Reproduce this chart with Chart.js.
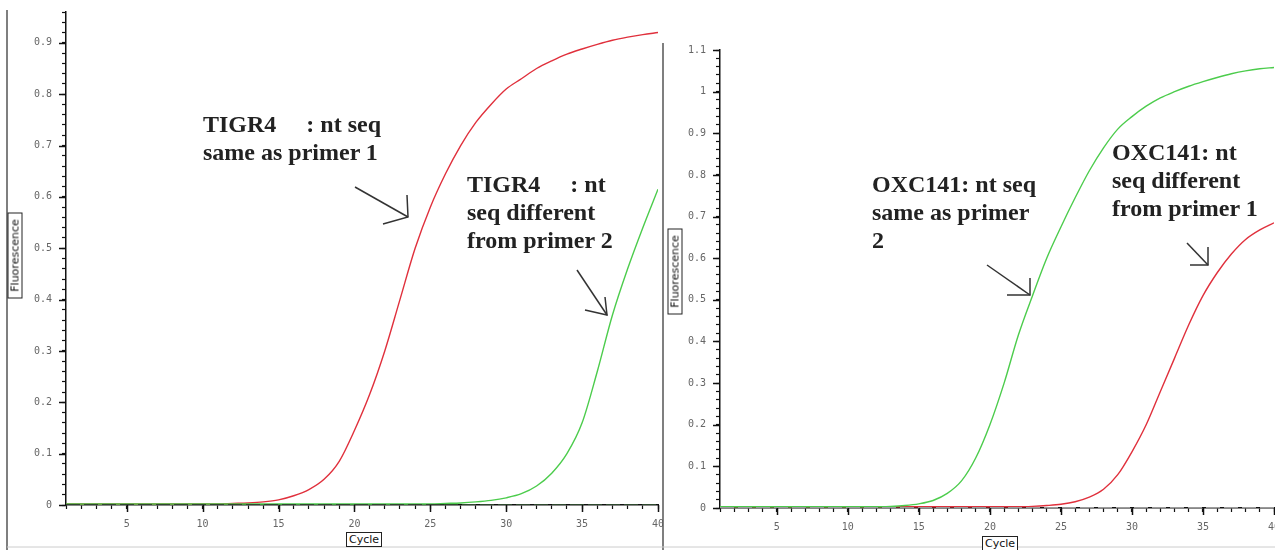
<!DOCTYPE html>
<html>
<head>
<meta charset="utf-8">
<script src="https://cdn.jsdelivr.net/npm/chart.js@4"></script>
<style>
  body { margin: 0; background: #fff; }
  #wrap { position: relative; width: 1275px; height: 550px; overflow: hidden; background: #fff; }
  canvas { position: absolute; top: 0; }
  .note { position: absolute; font: bold 24px "Liberation Serif", "DejaVu Serif", serif; line-height: 28px; color: #222; white-space: pre; }
  .axlab { position: absolute; font: 11px "DejaVu Sans", sans-serif; color: #111; border: 1px solid #222; padding: 0 2px; line-height: 13px; background: #fff; }
  svg { position: absolute; left: 0; top: 0; }
</style>
</head>
<body>
<div id="wrap">
  <canvas id="leftChart" width="663" height="550" style="left:0"></canvas>
  <canvas id="rightChart" width="611" height="550" style="left:664px"></canvas>

  <svg width="1275" height="550">
    <g stroke="#555" stroke-width="1.5" fill="none">
      <line x1="7" y1="10" x2="7" y2="550" />
      <line x1="663" y1="43" x2="663" y2="550" />
    </g>
    <line x1="7" y1="547" x2="1275" y2="547" stroke="#ccc" stroke-width="1" />
    <g stroke="#333" stroke-width="1.5" fill="none">
      <line x1="355" y1="187" x2="408" y2="217" />
      <polyline points="407,195 408,217 383,224" />
      <line x1="577" y1="270" x2="607" y2="315" />
      <polyline points="605,297 607,315 585,310" />
      <line x1="987" y1="265" x2="1030" y2="295" />
      <polyline points="1030,278 1030,295 1007,295" />
      <line x1="1187" y1="243" x2="1208" y2="265" />
      <polyline points="1208,247 1208,265 1190,265" />
    </g>
  </svg>

  <div class="note" style="left:203px; top:110px;">TIGR4     : nt seq
same as primer 1</div>
  <div class="note" style="left:467px; top:170px;">TIGR4     : nt
seq different
from primer 2</div>
  <div class="note" style="left:872px; top:170px;">OXC141: nt seq
same as primer
2</div>
  <div class="note" style="left:1112px; top:138px;">OXC141: nt
seq different
from primer 1</div>

  <div class="axlab" style="left:-28px; top:248px; width:80px; text-align:center; transform:rotate(-90deg);">Fluorescence</div>
  <div class="axlab" style="left:632px; top:264px; width:80px; text-align:center; transform:rotate(-90deg);">Fluorescence</div>
  <div class="axlab" style="left:346px; top:532px;">Cycle</div>
  <div class="axlab" style="left:982px; top:536px;">Cycle</div>
</div>

<script>
// Cycle numbers (x axis)
const cycles = [1, 2, 3, 4, 5, 6, 7, 8, 9, 10, 11, 12, 13, 14, 15, 16, 17, 18, 19, 20,
                21, 22, 23, 24, 25, 26, 27, 28, 29, 30, 31, 32, 33, 34, 35, 36, 37, 38, 39, 40];

// Left panel: TIGR4
const tigrRed = [0.002, 0.002, 0.002, 0.002, 0.002, 0.002, 0.002, 0.002, 0.002, 0.002,
                 0.002, 0.003, 0.004, 0.006, 0.010, 0.018, 0.030, 0.050, 0.085, 0.145,
                 0.215, 0.300, 0.400, 0.500, 0.580, 0.645, 0.700, 0.745, 0.780, 0.810,
                 0.830, 0.850, 0.865, 0.878, 0.888, 0.897, 0.905, 0.911, 0.916, 0.920];
const tigrGreen = [0.002, 0.002, 0.002, 0.002, 0.002, 0.002, 0.002, 0.002, 0.002, 0.002,
                   0.002, 0.002, 0.002, 0.002, 0.002, 0.002, 0.002, 0.002, 0.002, 0.002,
                   0.002, 0.002, 0.002, 0.002, 0.002, 0.003, 0.004, 0.006, 0.009, 0.014,
                   0.022, 0.037, 0.062, 0.100, 0.160, 0.260, 0.370, 0.460, 0.540, 0.615];

// Right panel: OXC141
const oxcGreen = [0.003, 0.003, 0.003, 0.003, 0.003, 0.003, 0.003, 0.003, 0.003, 0.003,
                  0.003, 0.003, 0.004, 0.006, 0.010, 0.018, 0.035, 0.065, 0.120, 0.200,
                  0.300, 0.415, 0.510, 0.600, 0.675, 0.745, 0.810, 0.865, 0.910, 0.940,
                  0.965, 0.985, 1.000, 1.013, 1.024, 1.034, 1.043, 1.050, 1.055, 1.058];
const oxcRed = [0.003, 0.003, 0.003, 0.003, 0.003, 0.003, 0.003, 0.003, 0.003, 0.003,
                0.003, 0.003, 0.003, 0.003, 0.003, 0.003, 0.003, 0.003, 0.003, 0.003,
                0.003, 0.003, 0.004, 0.006, 0.009, 0.015, 0.026, 0.045, 0.080, 0.135,
                0.200, 0.280, 0.360, 0.440, 0.510, 0.565, 0.610, 0.645, 0.668, 0.685];

// Threshold baseline
const baseline = [0, 0];
const baselineX = [1, 40];

const leftYMax = 0.96;
const rightYMax = 1.1;
const minorStepY = 0.02;

function pts(xs, ys) {
    return xs.map((x, i) => ({ x: x, y: ys[i] }));
}

function yLabel(v) {
    let h = Math.round(v * 100);
    if (h % 10 !== 0) return "";
    return String(h / 100);
}

function xLabel(v) {
    return (v % 5 === 0) ? String(v) : "";
}

// draws longer tick marks where a label is shown
const majorTicks = {
    id: "majorTicks",
    afterDraw(chart) {
        let ctx = chart.ctx;
        let xs = chart.scales.x, ys = chart.scales.y;
        ctx.save();
        ctx.strokeStyle = "#111";
        ctx.lineWidth = 1.5;
        ys.ticks.forEach(t => {
            if (yLabel(t.value) === "") return;
            let p = Math.round(ys.getPixelForValue(t.value)) + 0.5;
            ctx.beginPath();
            ctx.moveTo(chart.chartArea.left - 7, p);
            ctx.lineTo(chart.chartArea.left, p);
            ctx.stroke();
        });
        xs.ticks.forEach(t => {
            if (xLabel(t.value) === "") return;
            let p = Math.round(xs.getPixelForValue(t.value)) + 0.5;
            ctx.beginPath();
            ctx.moveTo(p, chart.chartArea.bottom);
            ctx.lineTo(p, chart.chartArea.bottom + 7);
            ctx.stroke();
        });
        ctx.restore();
    }
};

function makeChart(id, red, green, yMax, pad, yWidth, xHeight, baseColor) {
    let ctx = document.getElementById(id).getContext("2d");
    return new Chart(ctx, {
        type: "line",
        data: {
            datasets: [
                {
                    label: "threshold",
                    data: pts(baselineX, baseline),
                    borderColor: baseColor,
                    borderWidth: 2,
                    borderDash: [14, 4],
                    pointRadius: 0
                },
                {
                    label: "green",
                    data: pts(cycles, green),
                    borderColor: "#4ccc4c",
                    borderWidth: 1.4,
                    pointRadius: 0,
                    cubicInterpolationMode: "monotone"
                },
                {
                    label: "red",
                    data: pts(cycles, red),
                    borderColor: "#e0303c",
                    borderWidth: 1.4,
                    pointRadius: 0,
                    cubicInterpolationMode: "monotone"
                }
            ]
        },
        options: {
            responsive: false,
            animation: false,
            layout: { padding: pad, autoPadding: false },
            plugins: { legend: { display: false }, tooltip: { enabled: false } },
            scales: {
                x: {
                    type: "linear",
                    min: 1,
                    max: 40,
                    afterFit: s => { s.height = xHeight; s.paddingLeft = 0; s.paddingRight = 0; },
                    afterBuildTicks: s => { s.ticks = cycles.map(c => ({ value: c })); },
                    ticks: {
                        autoSkip: false,
                        maxRotation: 0,
                        padding: 9,
                        color: "#666",
                        font: { family: "DejaVu Sans Mono", size: 10 },
                        callback: v => xLabel(v)
                    },
                    grid: { drawOnChartArea: false, tickLength: 4, tickColor: "#111", tickWidth: 1.2 },
                    border: { color: "#111", width: 1.5 }
                },
                y: {
                    min: 0,
                    max: yMax,
                    afterFit: s => { s.width = yWidth; s.paddingTop = 0; s.paddingBottom = 0; },
                    ticks: {
                        stepSize: minorStepY,
                        autoSkip: false,
                        padding: 10,
                        color: "#666",
                        font: { family: "DejaVu Sans Mono", size: 10 },
                        callback: v => yLabel(v)
                    },
                    grid: { drawOnChartArea: false, tickLength: 4, tickColor: "#111", tickWidth: 1.2 },
                    border: { color: "#111", width: 1.5 }
                }
            }
        },
        plugins: [majorTicks]
    });
}

document.addEventListener("DOMContentLoaded", function () {
    makeChart("leftChart", tigrRed, tigrGreen, leftYMax,
        { left: 0, right: 5, top: 12, bottom: 0 }, 66, 45, "#2e4a2e");
    makeChart("rightChart", oxcRed, oxcGreen, rightYMax,
        { left: 0, right: 1, top: 50, bottom: 0 }, 56, 42, "#9a9a9a");
});
</script>
</body>
</html>
